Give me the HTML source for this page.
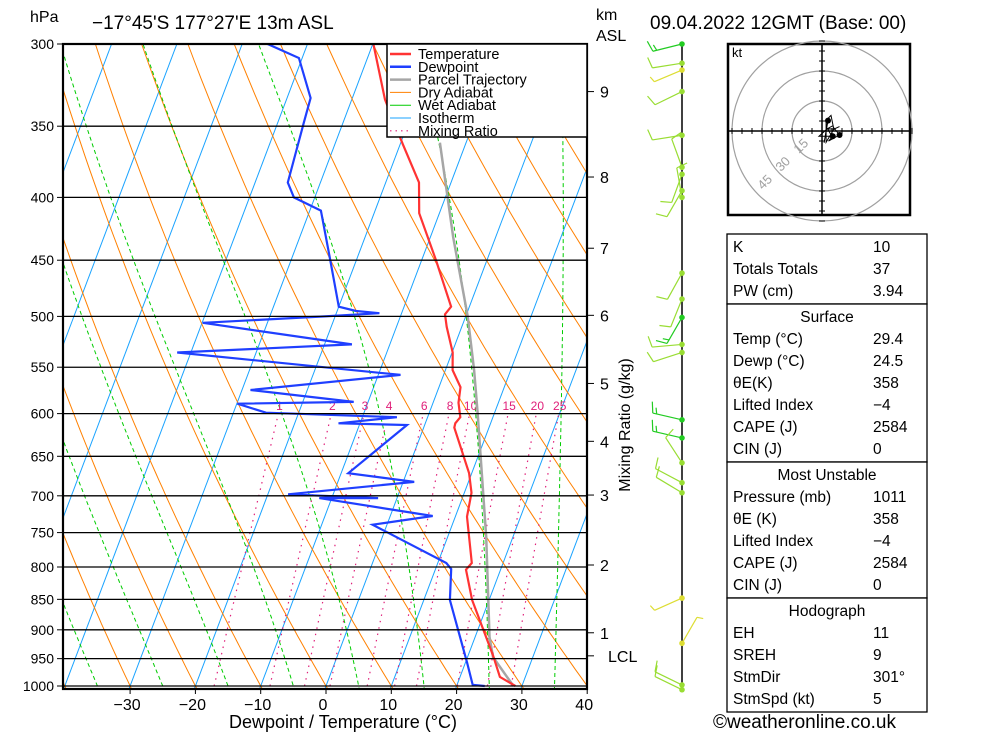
<!DOCTYPE html>
<html><head><meta charset="utf-8"><style>
body{margin:0;background:#fff;}
svg{display:block;font-family:"Liberation Sans",sans-serif;}
</style></head><body>
<svg id="chart" width="1000" height="733" viewBox="0 0 1000 733" xmlns="http://www.w3.org/2000/svg">
<defs><clipPath id="plotclip"><rect x="63" y="44" width="524" height="645"/></clipPath></defs>
<rect x="0" y="0" width="1000" height="733" fill="#fff"/>
<text x="30" y="22" font-size="16">hPa</text>
<text x="92" y="29" font-size="19">−17°45'S  177°27'E  13m  ASL</text>
<text x="596" y="20" font-size="16">km</text>
<text x="596" y="41" font-size="16">ASL</text>
<text x="650" y="29" font-size="19">09.04.2022  12GMT  (Base: 00)</text>
<g id="bg" clip-path="url(#plotclip)"></g>
<g id="prof" clip-path="url(#plotclip)"></g>
<g id="axes"></g>
<g id="legend">
<rect x="387" y="44" width="200" height="93" fill="#fff" stroke="#000" stroke-width="1.5"/>
</g>
<g id="winds"></g>
<g id="hodo"></g>
<g id="table"></g>
<text x="713" y="728" font-size="19">©weatheronline.co.uk</text>
</svg>
<script>
// ---- data ----
const tempP = [300,333,362,389,412,450,491,498,510,535,553,571,588,604,611,616,671,696,728,794,804,851,944,983,1000];
const tempT = [-29.9,-24.9,-19.6,-14.9,-13.1,-7.8,-2.8,-3.3,-2.3,0.1,1.1,3.3,3.9,5.0,4.6,4.7,9.6,11.1,11.8,15.2,14.7,17.4,23.8,26.1,29.0];
const dewP = [300,308,332,348,389,400,410,447,491,495,497,500,506,527,535,558,574,587,589,599,604,611,613,671,682,698,703,703,727,739,794,803,851,958,998,1000];
const dewT = [-46.1,-40.5,-36.4,-36.0,-35.0,-33.2,-28.3,-24.3,-20.0,-17.1,-13.4,-21.6,-39.9,-15.8,-42.1,-6.6,-28.7,-12.2,-29.9,-25.0,-4.7,-13.3,-2.7,-8.9,1.7,-16.9,-2.9,-11.9,6.5,-2.2,11.3,12.4,14.0,20.3,22.4,24.3];
const parcelP = [361,431,500,553,599,756,912,947,1000];
const parcelT = [-14.0,-6.5,0.3,4.4,7.4,15.9,22.2,23.9,28.7];
const pressureTicks = [300,350,400,450,500,550,600,650,700,750,800,850,900,950,1000];
const tempTicks = [-30,-20,-10,0,10,20,30,40];
const mixRatios = [1,2,3,4,6,8,10,15,20,25];
const kmLabels = [9,8,7,6,5,4,3,2,1];
const kmPress = [328,385,440,499,567,632,699,797,905];
const lclP = 945;
const barbP = [300,311,315,328,356,378,383,395,400,461,484,501,527,535,607,628,658,683,696,848,923,998,1007];
const barbDir = [256,261,247,244,261,340,200,210,350,209,202,210,265,252,283,283,327,298,301,246,30,296,296];
const barbSpd = [15,10,5,10,10,10,10,10,10,10,10,15,10,10,15,15,10,10,10,5,5,10,10];
const tableRows1 = [["K","10"],["Totals Totals","37"],["PW (cm)","3.94"]];
const tableRows2 = [["Temp (°C)","29.4"],["Dewp (°C)","24.5"],["θE(K)","358"],["Lifted Index","−4"],["CAPE (J)","2584"],["CIN (J)","0"]];
const tableRows3 = [["Pressure (mb)","1011"],["θE (K)","358"],["Lifted Index","−4"],["CAPE (J)","2584"],["CIN (J)","0"]];
const tableRows4 = [["EH","11"],["SREH","9"],["StmDir","301°"],["StmSpd (kt)","5"]];

// ---- axes functions ----
const NS="http://www.w3.org/2000/svg";
const Y0=686, KY=642/Math.log(1000/300), X0=326, KX=6.53, SKEW=0.378;
function yP(p){return Y0-KY*Math.log(1000/p);}
function xT(T,p){return X0+KX*T+SKEW*(Y0-yP(p));}
function mk(tag,attrs,parent){const e=document.createElementNS(NS,tag);for(const k in attrs)e.setAttribute(k,attrs[k]);parent.appendChild(e);return e;}
function poly(pts,stroke,w,parent,dash){const a={points:pts.map(q=>q[0].toFixed(1)+","+q[1].toFixed(1)).join(" "),fill:"none",stroke:stroke,"stroke-width":w};if(dash)a["stroke-dasharray"]=dash;return mk("polyline",a,parent);}
const bg=document.getElementById("bg"), prof=document.getElementById("prof"), axes=document.getElementById("axes");

// isotherms
for(let T=-130;T<=40;T+=10){
  const l=mk("line",{x1:xT(T,1050),y1:yP(1050),x2:xT(T,280),y2:yP(280),stroke:"#1aa3ff","stroke-width":1},bg);
  
  
}
// dry adiabats
for(let th=-40;th<=200;th+=10){
  const pts=[];for(let p=1050;p>=280;p-=10){const T=(th+273.15)*Math.pow(p/1000,0.286)-273.15;pts.push([xT(T,p),yP(p)]);}
  const l=poly(pts,"#ff8000",1,bg);
  
  
}
// moist adiabats
function es(Tc){return 6.112*Math.exp(17.67*Tc/(Tc+243.5));}
function moist(tw){
  const pts=[];let T=tw+273.15;
  // go down to 1050
  let Td=T;for(let p=1000;p<1050;p+=5){const rs=0.622*es(Td-273.15)/(p-es(Td-273.15));const d=(287.04*Td+2.5e6*rs)/(p*(1005.7+2.5e6*2.5e6*rs*0.622/(287.04*Td*Td)));Td+=d*5;}
  pts.push([xT(Td-273.15,1050),yP(1050)]);
  for(let p=1000;p>=280;p-=5){
    pts.push([xT(T-273.15,p),yP(p)]);
    const rs=0.622*es(T-273.15)/(p-es(T-273.15));
    const d=(287.04*T+2.5e6*rs)/(p*(1005.7+2.5e6*2.5e6*rs*0.622/(287.04*T*T)));
    T-=d*5;
  }
  return pts;
}
for(let tw=-45;tw<=35;tw+=10){
  const l=poly(moist(tw),"#00cc00",1,bg,"4,3");
  
  
}
// mixing ratio
function tdFromW(w,p){const e=w*p/(622+w);const L=Math.log(e/6.112);return 243.5*L/(17.67-L);}
mixRatios.forEach(w=>{
  const pts=[];for(let p=1000;p>=600;p-=20)pts.push([xT(tdFromW(w,p),p),yP(p)]);
  const l=poly(pts,"#e0207a",1.2,bg,"1.5,5");
  
  
  const t=mk("text",{x:xT(tdFromW(w,600),600)+1,y:410,"font-size":12,fill:"#e0207a","text-anchor":"middle"},bg);
  t.textContent=w;
  
  
});
// isobars + labels
pressureTicks.forEach(p=>{
  const l=mk("line",{x1:63,y1:yP(p),x2:587,y2:yP(p),stroke:"#000","stroke-width":1.3},axes);
  
  
  mk("line",{x1:57,y1:yP(p),x2:63,y2:yP(p),stroke:"#000","stroke-width":1},axes);
  const t=mk("text",{x:54,y:yP(p)+5,"font-size":14,"text-anchor":"end"},axes);
  t.textContent=p;
  
  
});
tempTicks.forEach(T=>{
  mk("line",{x1:xT(T,1000),y1:689,x2:xT(T,1000),y2:694,stroke:"#000","stroke-width":1},axes);
  const t=mk("text",{x:xT(T,1000)-3,y:710,"font-size":16,"text-anchor":"middle"},axes);
  t.textContent=T<0?"−"+(-T):T;
  
  
});
{const t=mk("text",{x:343,y:728,"font-size":18,"text-anchor":"middle"},axes);t.textContent="Dewpoint / Temperature (°C)";

}
{const t=mk("text",{x:0,y:0,"font-size":16,"text-anchor":"middle",transform:"translate(630,425) rotate(-90)"},axes);t.textContent="Mixing Ratio (g/kg)";

}
kmLabels.forEach((k,i)=>{
  const y=yP(kmPress[i]);
  mk("line",{x1:587,y1:y,x2:594,y2:y,stroke:"#000","stroke-width":1},axes);
  const t=mk("text",{x:600,y:y+6,"font-size":16},axes);t.textContent=k;
  
  
});
{const y=yP(lclP);mk("line",{x1:587,y1:y,x2:594,y2:y,stroke:"#000","stroke-width":1},axes);
const t=mk("text",{x:608,y:y+6,"font-size":16},axes);t.textContent="LCL";

}
mk("rect",{x:63,y:44,width:524,height:645,fill:"none",stroke:"#000","stroke-width":2.2},axes);

// profiles
function prof2(P,T){return P.map((p,i)=>[xT(T[i],p),yP(p)]);}
{const l=poly(prof2(parcelP,parcelT),"#a6a6a6",2.5,prof);}
{const l=poly(prof2(dewP,dewT),"#1f3fff",2.2,prof);}
{const l=poly(prof2(tempP,tempT),"#ff3333",2.2,prof);}

// legend
const leg=document.getElementById("legend");
const legItems=[["Temperature","#ff3333",2.5,null],["Dewpoint","#1f3fff",2.5,null],["Parcel Trajectory","#a6a6a6",2.5,null],["Dry Adiabat","#ff8000",1,null],["Wet Adiabat","#00cc00",1,null],["Isotherm","#1aa3ff",1,null],["Mixing Ratio","#e0207a",1.2,"1.5,4"]];
legItems.forEach((it,i)=>{
  const y=54+i*12.8;
  const a={x1:390,y1:y,x2:411,y2:y,stroke:it[1],"stroke-width":it[2]};if(it[3])a["stroke-dasharray"]=it[3];
  mk("line",a,leg);
  const t=mk("text",{x:418,y:y+5,"font-size":14.5},leg);t.textContent=it[0];
  
  
});

// winds
const wg=document.getElementById("winds");
mk("line",{x1:682,y1:44,x2:682,y2:690,stroke:"#000","stroke-width":1.5},wg);
function barbColor(s){return s>=15?"#22cc22":(s>=10?"#99dd33":"#dddd33");}
barbP.forEach((p,i)=>{
  const y=yP(p), c=barbColor(barbSpd[i]), d=barbDir[i]*Math.PI/180;
  const ux=Math.sin(d), uy=-Math.cos(d);
  const ex=682+30*ux, ey=y+30*uy;
  const g=mk("g",{},wg);
  
  
  mk("line",{x1:682,y1:y,x2:ex,y2:ey,stroke:c,"stroke-width":1.2},g);
  let n=Math.floor(barbSpd[i]/10), half=(barbSpd[i]%10)>=5;
  for(let k=0;k<n;k++){const bx=ex-ux*4*k,by=ey-uy*4*k;mk("line",{x1:bx,y1:by,x2:bx-uy*11+ux*3,y2:by+ux*11+uy*3,stroke:c,"stroke-width":1.2},g);}
  if(half){const bx=ex-ux*4*n,by=ey-uy*4*n;mk("line",{x1:bx,y1:by,x2:bx-uy*6+ux*2,y2:by+ux*6+uy*2,stroke:c,"stroke-width":1.2},g);}
  mk("circle",{cx:682,cy:y,r:2.8,fill:c},g);
});

// hodograph
const hg=document.getElementById("hodo");
const HX=822,HY=131,HS=2;
mk("rect",{x:728,y:44,width:182,height:171,fill:"#fff",stroke:"#000","stroke-width":2.5},hg);
[15,30,45].forEach(r=>{mk("circle",{cx:HX,cy:HY,r:r*HS,fill:"none",stroke:"#a0a0a0","stroke-width":1.2},hg);
  const a=225*Math.PI/180;const t=mk("text",{x:0,y:0,"font-size":13,fill:"#a0a0a0","text-anchor":"middle",transform:`translate(${HX+Math.sin(a)*r*HS*0.85},${HY-Math.cos(a)*r*HS*0.85}) rotate(-45)`},hg);t.textContent=r;
  
  });
mk("line",{x1:728,y1:HY,x2:910,y2:HY,stroke:"#000","stroke-width":1.5},hg);
mk("line",{x1:HX,y1:44,x2:HX,y2:215,stroke:"#000","stroke-width":1.5},hg);
for(let k=-90;k<=90;k+=10){if(k===0)continue;mk("line",{x1:HX+k,y1:HY-3,x2:HX+k,y2:HY+3,stroke:"#000"},hg);mk("line",{x1:HX-3,y1:HY+k,x2:HX+3,y2:HY+k,stroke:"#000"},hg);}
{const t=mk("text",{x:732,y:57,"font-size":13},hg);t.textContent="kt";}
{const order=barbP.map((p,i)=>i).reverse();
 const pts=order.map(i=>{const d=barbDir[i]*Math.PI/180;const u=-barbSpd[i]*Math.sin(d)*0.6,v=-barbSpd[i]*Math.cos(d)*0.6;return [HX+u*HS,HY-v*HS];});
 const l=poly(pts,"#000",1,hg);
 [pts[0],pts[8],pts[15]].forEach(q=>mk("circle",{cx:q[0],cy:q[1],r:3,fill:"#000"},hg));}

// table
const tg=document.getElementById("table");
function section(y0,title,rows){
  const h=(title?22:0)+rows.length*22+4;
  mk("rect",{x:727,y:y0,width:200,height:h,fill:"#fff",stroke:"#000","stroke-width":1.3},tg);
  let y=y0+18;
  if(title){const t=mk("text",{x:827,y:y,"font-size":15.5,"text-anchor":"middle"},tg);t.textContent=title;y+=22;}
  rows.forEach(r=>{const a=mk("text",{x:733,y:y,"font-size":15.5},tg);a.textContent=r[0];
    
    
    const b=mk("text",{x:873,y:y,"font-size":15.5},tg);b.textContent=r[1];
    
    
    y+=22;});
  return y0+h;
}
let yy=section(234,null,tableRows1);
yy=section(yy,"Surface",tableRows2);
yy=section(yy,"Most Unstable",tableRows3);
section(yy,"Hodograph",tableRows4);
</script>
</body></html>
